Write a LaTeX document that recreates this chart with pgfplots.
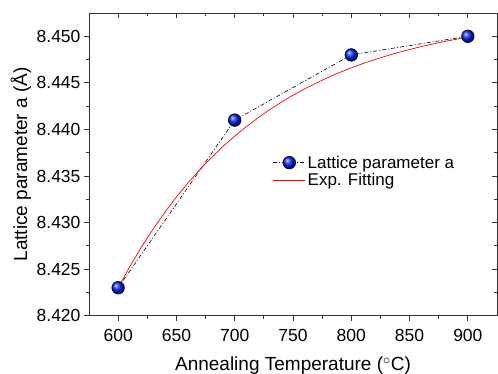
\documentclass[border=0pt]{standalone}
\usepackage{fontspec}
\setmainfont{Liberation Sans}
\usepackage{pgfplots}
\pgfplotsset{compat=1.18}
\begin{document}
\begin{tikzpicture}
\useasboundingbox (-89pt,-58.3pt) rectangle (409pt,315.7pt);
\pgfplotsset{
  common/.style={
    at={(0pt,0pt)}, anchor=south west, scale only axis,
    width=408pt, height=302.7pt,
    xmin=575, xmax=925, ymin=8.420, ymax=8.4525,
    xtick={600,650,700,750,800,850,900},
    ytick={8.420,8.425,8.430,8.435,8.440,8.445,8.450},
    minor x tick num=1, minor y tick num=1,
    major tick length=5pt, minor tick length=3pt,
    axis line style={line width=0.9pt, black!80, -},
    every tick/.style={line width=0.8pt, black!80},
    /pgf/number format/assume math mode=true,
    ticklabel style={font=\fontsize{17.5}{20}\selectfont},
  }
}
\begin{axis}[common,
  axis x line*=top, axis y line*=right, tick align=inside,
  xticklabels={}, yticklabels={}]
\end{axis}
\begin{axis}[common,
  axis x line*=bottom, axis y line*=left, tick align=outside,
  xticklabel style={yshift=-5pt},
  yticklabel style={/pgf/number format/.cd, fixed, fixed zerofill, precision=3},
  xlabel={Annealing Temperature ($^\circ$C)},
  ylabel={Lattice parameter a (Å)},
  label style={font=\fontsize{19}{22}\selectfont},
  xlabel style={at={(axis description cs:0.5,-0.166)}, anchor=center},
  ylabel style={at={(axis description cs:-0.167,0.5)}, anchor=center},
  legend style={draw=none, fill=none, at={(axis description cs:0.448,0.539)}, anchor=north west,
    font=\fontsize{17}{20}\selectfont, inner sep=1pt},
  legend cell align=left,
  legend image code/.code={\draw[mark repeat=2,mark phase=2,#1] plot coordinates {(0pt,0pt) (16pt,0pt) (32pt,0pt)};},
]
\addplot[black, line width=0.6pt, dash pattern=on 4pt off 2pt on 1pt off 2pt,
  mark=ball, mark size=6.3pt, mark options={solid, ball color=blue!85!cyan}]
  coordinates {(600,8.423) (700,8.441) (800,8.448) (900,8.450)};
\addlegendentry{Lattice parameter a}
\addplot[red, line width=0.7pt, mark=none] coordinates {
(600,8.42300) (610,8.42527) (620,8.42737) (630,8.42931) (640,8.43109)
(650,8.43274) (660,8.43427) (670,8.43568) (680,8.43697) (690,8.43817)
(700,8.43928) (710,8.44030) (720,8.44125) (730,8.44212) (740,8.44292)
(750,8.44367) (760,8.44435) (770,8.44498) (780,8.44557) (790,8.44611)
(800,8.44661) (810,8.44707) (820,8.44749) (830,8.44788) (840,8.44825)
(850,8.44858) (860,8.44889) (870,8.44917) (880,8.44944) (890,8.44968)
(900,8.44990)};
\addlegendentry{Exp. Fitting}
\end{axis}
\end{tikzpicture}
\end{document}
